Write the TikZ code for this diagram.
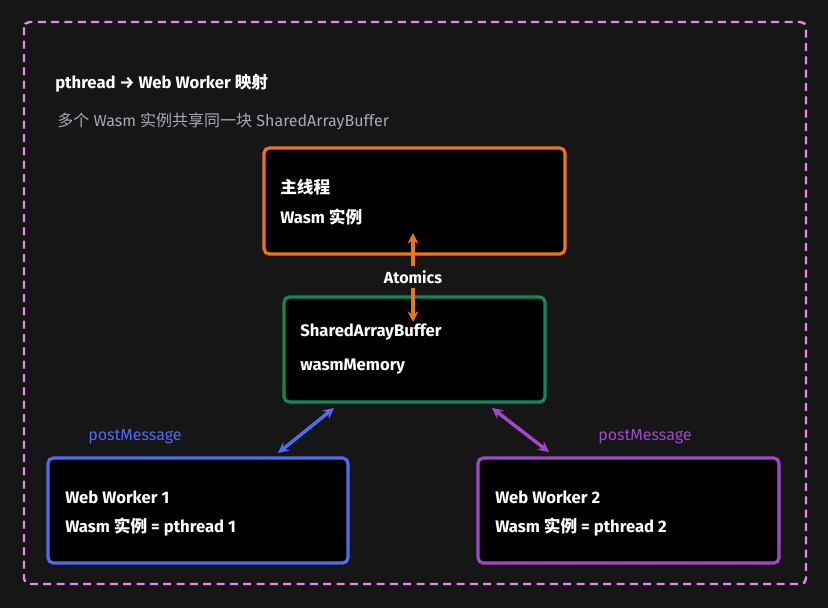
\documentclass[tikz,border=0pt]{standalone}
\usepackage{fontspec}
\setmainfont{Fira Sans}
\newfontfamily\cjk{Noto Sans CJK SC}
\usetikzlibrary{arrows.meta}
\definecolor{bg}{HTML}{161616}
\definecolor{cor}{HTML}{F07416}
\definecolor{cgr}{HTML}{0E8A5E}
\definecolor{cbl}{HTML}{4F6CF0}
\definecolor{cpu}{HTML}{A347C8}
\definecolor{cdash}{HTML}{E08BE8}
\definecolor{csub}{HTML}{A8A8B8}
\begin{document}
\begin{tikzpicture}[x=0.75pt,y=-0.75pt,
  box/.style={draw=#1,line width=2.4pt,fill=black,rounded corners=4pt},
  txt/.style={anchor=west,text=white,font=\bfseries\fontsize{12.5}{14}\selectfont,inner sep=0},
  arr/.style={draw=#1,line width=2.6pt,{Stealth[length=8pt,width=8pt]}-{Stealth[length=8pt,width=8pt]}},
  lbl/.style={text=#1,font=\fontsize{12}{14}\selectfont,inner sep=0}]
\fill[bg] (0,0) rectangle (828,608);
\useasboundingbox (0,0) rectangle (828,608);
\draw[cdash,line width=1.8pt,dash pattern=on 6pt off 4pt,rounded corners=4pt] (24,22) rectangle (806,584);
\node[txt] (title) at (55,83) {pthread → Web Worker {\cjk 映射}};
\node[anchor=west,inner sep=0,text=csub,font=\fontsize{12}{14}\selectfont] (sub) at (57,121) {{\cjk 多个} Wasm {\cjk 实例共享同一块} SharedArrayBuffer};
\draw[box=cor] (264,148) rectangle (565,254);
\node[txt] (m1) at (280,187) {\cjk\bfseries 主线程};
\node[txt] (m2) at (280,217) {Wasm {\cjk\bfseries 实例}};
\draw[box=cgr] (284,297) rectangle (545,402);
\node[txt] (s1) at (300,332) {SharedArrayBuffer};
\node[txt] (s2) at (300,367) {wasmMemory};
\draw[box=cbl] (48,458) rectangle (348,563);
\node[txt] (w1) at (65,497) {Web Worker 1};
\node[txt] (w1b) at (65,527) {Wasm {\cjk\bfseries 实例} = pthread 1};
\draw[box=cpu] (478,458) rectangle (779,563);
\node[txt] (w2) at (495,497) {Web Worker 2};
\node[txt] (w2b) at (495,527) {Wasm {\cjk\bfseries 实例} = pthread 2};
\coordinate (a1) at (413,233); \coordinate (a2) at (413,322);
\draw[arr=cor] (a1) -- (a2);
\node[fill=bg,text=white,font=\bfseries\fontsize{12}{14}\selectfont,inner sep=3pt] (atom) at (413,277) {Atomics};
\coordinate (b1) at (334,408); \coordinate (b2) at (278,453);
\draw[arr=cbl] (b1) -- (b2);
\coordinate (c1) at (492,408); \coordinate (c2) at (549,452);
\draw[arr=cpu] (c1) -- (c2);
\node[lbl=cbl] (pm1) at (135,437) {postMessage};
\node[lbl=cpu] (pm2) at (645,437) {postMessage};
\end{tikzpicture}
\end{document}
